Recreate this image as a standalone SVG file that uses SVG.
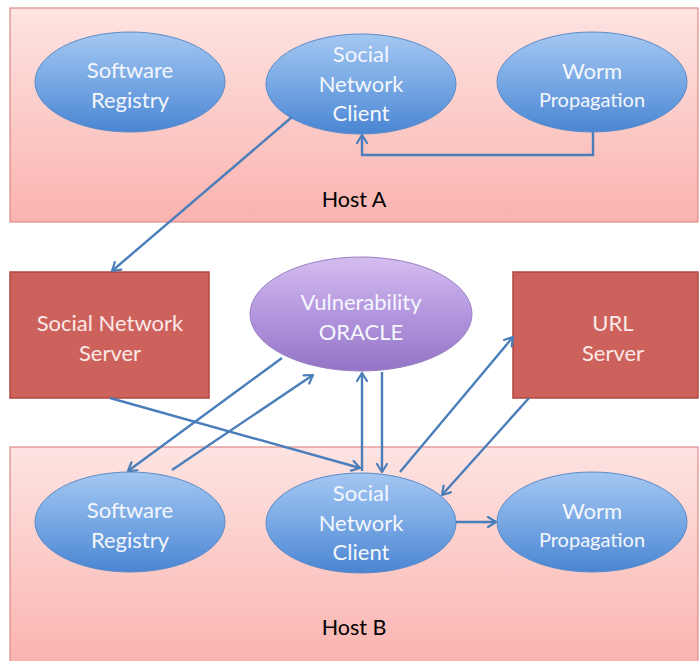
<svg xmlns="http://www.w3.org/2000/svg" width="699" height="661" viewBox="0 0 699 661">
  <defs>
    <linearGradient id="hostFill" x1="0" y1="0" x2="0" y2="1">
      <stop offset="0" stop-color="#fde4e2"/>
      <stop offset="1" stop-color="#fab3af"/>
    </linearGradient>
    <linearGradient id="blueFill" x1="0" y1="0" x2="0" y2="1">
      <stop offset="0" stop-color="#a4c7f2"/>
      <stop offset="0.5" stop-color="#78a8e4"/>
      <stop offset="1" stop-color="#4a85d2"/>
    </linearGradient>
    <linearGradient id="purpleFill" x1="0" y1="0" x2="0" y2="1">
      <stop offset="0" stop-color="#d5bdf0"/>
      <stop offset="0.5" stop-color="#b396de"/>
      <stop offset="1" stop-color="#9474c6"/>
    </linearGradient>
    <marker id="arrow" viewBox="0 0 12 12" refX="10" refY="6" markerWidth="12" markerHeight="12" markerUnits="userSpaceOnUse" orient="auto">
      <path d="M2,1 L10,6 L2,11" fill="none" stroke="#4a7ebb" stroke-width="2.2" stroke-linecap="round" stroke-linejoin="round"/>
    </marker>
  </defs>
  <style>
    .host { fill: url(#hostFill); stroke: #dd8b88; stroke-width: 1.2; }
    .hostLabel { font-family: Lato, "Liberation Sans", sans-serif; font-size: 21.5px; fill: #000; text-anchor: middle; }
    .blue { fill: url(#blueFill); stroke: #5b8bc8; stroke-width: 1; }
    .purple { fill: url(#purpleFill); stroke: #9a80c4; stroke-width: 1; }
    .server { fill: #cd625c; stroke: #b4463f; stroke-width: 1.5; }
    .lbl { font-family: Lato, "Liberation Sans", sans-serif; font-size: 22px; fill: #f4f7fd; text-anchor: middle; }
    .lblS { font-family: Lato, "Liberation Sans", sans-serif; font-size: 20px; fill: #f4f7fd; text-anchor: middle; }
    .srv { font-family: Lato, "Liberation Sans", sans-serif; font-size: 22px; fill: #fbe9e7; text-anchor: middle; }
    .conn { fill: none; stroke: #4a7ebb; stroke-width: 2.4; marker-end: url(#arrow); }
  </style>

  <rect width="699" height="661" fill="#ffffff"/>

  <!-- host containers -->
  <g id="hostA">
    <rect class="host" x="10" y="8" width="688" height="214"/>
    <text class="hostLabel" x="354" y="207">Host A</text>
  </g>
  <g id="hostB">
    <rect class="host" x="10" y="447" width="688" height="220"/>
    <text class="hostLabel" x="354" y="635">Host B</text>
  </g>

  <!-- host A nodes -->
  <g id="a-software-registry">
    <ellipse class="blue" cx="130" cy="82" rx="95" ry="50"/>
    <text class="lbl" x="130" y="78">Software</text>
    <text class="lbl" x="130" y="108">Registry</text>
  </g>
  <g id="a-social-network-client">
    <ellipse class="blue" cx="361" cy="84" rx="95" ry="50"/>
    <text class="lbl" x="361" y="62">Social</text>
    <text class="lbl" x="361" y="92">Network</text>
    <text class="lbl" x="361" y="121">Client</text>
  </g>
  <g id="a-worm-propagation">
    <ellipse class="blue" cx="592" cy="82" rx="95" ry="50"/>
    <text class="lbl" x="592" y="79">Worm</text>
    <text class="lblS" x="592" y="107">Propagation</text>
  </g>

  <!-- middle nodes -->
  <g id="social-network-server">
    <rect class="server" x="10" y="272" width="199" height="126"/>
    <text class="srv" x="110" y="331">Social Network</text>
    <text class="srv" x="110" y="361">Server</text>
  </g>
  <g id="vulnerability-oracle">
    <ellipse class="purple" cx="361" cy="314" rx="111" ry="57"/>
    <text class="lbl" x="361" y="310">Vulnerability</text>
    <text class="lbl" x="361" y="340">ORACLE</text>
  </g>
  <g id="url-server">
    <rect class="server" x="513" y="272" width="185" height="126"/>
    <text class="srv" x="613" y="331">URL</text>
    <text class="srv" x="613" y="361">Server</text>
  </g>

  <!-- host B nodes -->
  <g id="b-software-registry">
    <ellipse class="blue" cx="130" cy="522" rx="95" ry="50"/>
    <text class="lbl" x="130" y="518">Software</text>
    <text class="lbl" x="130" y="548">Registry</text>
  </g>
  <g id="b-social-network-client">
    <ellipse class="blue" cx="361" cy="523" rx="95" ry="50"/>
    <text class="lbl" x="361" y="501">Social</text>
    <text class="lbl" x="361" y="531">Network</text>
    <text class="lbl" x="361" y="560">Client</text>
  </g>
  <g id="b-worm-propagation">
    <ellipse class="blue" cx="592" cy="522" rx="95" ry="50"/>
    <text class="lbl" x="592" y="519">Worm</text>
    <text class="lblS" x="592" y="547">Propagation</text>
  </g>

  <!-- connectors -->
  <g id="connectors">
    <polyline class="conn" points="593,132 593,155 362,155 362,135"/>
    <line class="conn" x1="292" y1="117" x2="112" y2="271"/>
    <line class="conn" x1="110" y1="398" x2="360" y2="468"/>
    <line class="conn" x1="282" y1="358" x2="128" y2="471"/>
    <line class="conn" x1="172" y1="470" x2="313" y2="375"/>
    <line class="conn" x1="362" y1="471" x2="362" y2="373"/>
    <line class="conn" x1="382" y1="372" x2="382" y2="472"/>
    <line class="conn" x1="400" y1="472" x2="513" y2="337"/>
    <line class="conn" x1="529" y1="398" x2="442" y2="495"/>
    <line class="conn" x1="456" y1="522" x2="496" y2="522"/>
  </g>
</svg>
